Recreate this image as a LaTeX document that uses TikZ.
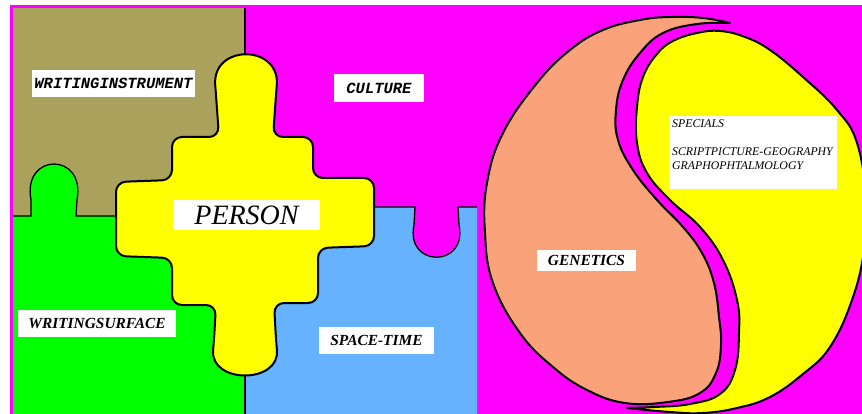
\documentclass[tikz,border=0pt]{standalone}
\usepackage{fontspec}
\setmainfont{Liberation Serif}
\newfontfamily\courfont{Liberation Mono}
\definecolor{instrumentcol}{RGB}{170,161,92}
\definecolor{culturecol}{RGB}{255,0,255}
\definecolor{surfacecol}{RGB}{0,255,0}
\definecolor{spacetimecol}{RGB}{102,178,255}
\definecolor{geneticscol}{RGB}{250,162,122}
\definecolor{personcol}{RGB}{255,255,0}
\begin{document}
\begin{tikzpicture}[
    x=1pt, y=-1pt,
    outline/.style={draw=black, line width=2pt, line join=round},
    seam/.style={draw=black, line width=1.3pt},
    lbl/.style={fill=white, inner sep=0pt, minimum height=27pt, font=\fontsize{15.4}{18}\selectfont\bfseries\itshape},
    monolbl/.style={lbl, font=\courfont\fontsize{15.5}{18}\selectfont\bfseries\itshape},
]
\useasboundingbox (0,0) rectangle (862,414);
\clip (0,0) rectangle (862,414);
\fill[white] (0,0) rectangle (862,414);
\fill[culturecol] (10,5) rectangle (862,414);
% puzzle pieces
\fill[instrumentcol] (13,8) rectangle (245,216);
\fill[surfacecol] (13,216) -- (31,216) -- (31,200) .. controls (22,152) and (86,152) .. (77,200) -- (76,216) -- (245,216) -- (245,414) -- (13,414) -- cycle;
\draw[seam] (13,216) -- (31,216) -- (31,200) .. controls (22,152) and (86,152) .. (77,200) -- (76,216) -- (130,216);
\fill[spacetimecol] (245,207) -- (415,207) -- (414,225) .. controls (405,268) and (468,268) .. (459,225) -- (458,207) -- (477,207) -- (477,414) -- (245,414) -- cycle;
\draw[seam] (360,207) -- (415,207) -- (414,225) .. controls (405,268) and (468,268) .. (459,225) -- (458,207) -- (477,207);
\draw[seam] (245,8) -- (245,70);
\draw[seam] (245,360) -- (245,414);
\draw[outline, fill=personcol, rounded corners=10pt] (172,137) -- (219,137) -- (216,95) .. controls (212,44) and (280,44) .. (276,95) -- (273,137) -- (313,137) -- (313,178) -- (374,178) -- (374,246) -- (318,248) -- (318,303) -- (274,303) -- (276,340) .. controls (280,384) and (210,384) .. (214,340) -- (216,305) -- (172,305) -- (172,258) -- (116,256) -- (116,182) -- (172,180) -- cycle;
% yin and yang
\draw[outline, fill=geneticscol] plot[smooth, tension=0.7] coordinates {(730,23) (703,18) (670,17) (640,20) (603,30) (570,50) (537,83) (503,133) (487,183) (485,233) (493,283) (520,333) (553,367) (587,390) (625,403) (668,402) (700,393) (716,373) (721,345) (719,317) (714,283) (702,253) (683,227) (657,200) (633,170) (618,140) (616,110) (623,80) (640,53) (663,33) (697,24) (730,23)} -- cycle;
\draw[outline, fill=personcol] plot[smooth, tension=0.7] coordinates {(627,408) (670,412) (703,413) (737,408) (770,397) (803,374) (830,347) (852,300) (864,250) (866,200) (857,143) (837,110) (803,77) (770,50) (745,37) (720,31) (697,33) (673,41) (657,54) (643,77) (637,107) (637,143) (647,173) (670,200) (700,227) (723,260) (737,300) (739,333) (735,370) (720,394) (690,404) (655,407) (627,408)} -- cycle;
% labels
\node[monolbl, minimum width=163pt] (instrument) at (113.5,83.5) {WRITINGINSTRUMENT};
\node[monolbl, minimum width=90pt, minimum height=28pt] (culture) at (379,88) {CULTURE};
\node[lbl, minimum width=147pt, minimum height=30pt, font=\fontsize{28}{32}\selectfont\itshape] (person) at (246.5,215) {PERSON};
\node[lbl, minimum width=158pt] (surface) at (97,323.5) {WRITINGSURFACE};
\node[lbl, minimum width=115pt] (spacetime) at (376.5,340.5) {SPACE-TIME};
\node[lbl, minimum width=99pt, minimum height=21pt] (genetics) at (586.5,260.5) {GENETICS};
\node[fill=white, inner sep=3pt, anchor=north west, font=\fontsize{11.8}{14}\selectfont\itshape] (specials) at (669,116) {\parbox[t][67pt][t]{162pt}{SPECIALS\\[14pt]SCRIPTPICTURE-GEOGRAPHY\\GRAPHOPHTALMOLOGY}};
\end{tikzpicture}
\end{document}
